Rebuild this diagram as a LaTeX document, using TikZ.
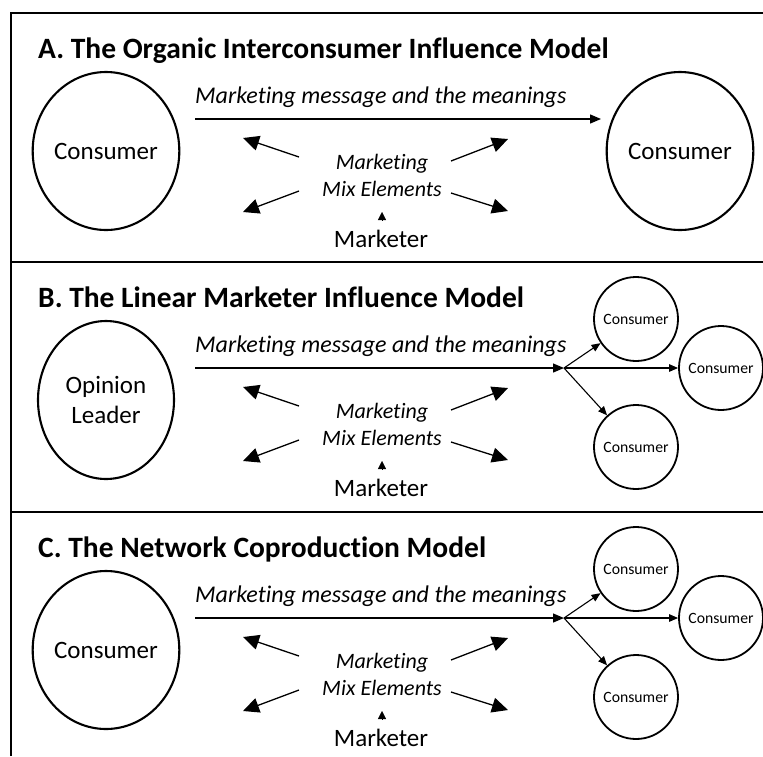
\documentclass[tikz,border=0pt]{standalone}
\usepackage{fontspec}
\setmainfont{Carlito}[Ligatures=NoCommon]
\usetikzlibrary{arrows.meta,shapes.geometric}
\tikzset{
  frame/.style={line width=2.8pt},
  bigc/.style={draw, ellipse, line width=2.1pt, minimum width=136pt, minimum height=158pt, inner sep=0pt, align=center, font=\fontsize{25}{30}\selectfont},
  smallc/.style={draw, circle, line width=1.8pt, minimum size=84pt, inner sep=0pt, font=\fontsize{15.7}{19}\selectfont},
  ttl/.style={anchor=base west, inner sep=0pt, font=\bfseries\fontsize{29.5}{34}\selectfont},
  msgtext/.style={anchor=base west, inner sep=0pt, font=\itshape\fontsize{24}{28}\selectfont},
  mixtext/.style={anchor=base, inner sep=0pt, font=\itshape\fontsize{22}{26}\selectfont},
  mkttext/.style={anchor=base, inner sep=0pt, font=\fontsize{25}{30}\selectfont},
  bigarrow/.style={line width=1.3pt, -{Triangle[length=16pt,width=15pt]}},
  msgarrow/.style={line width=1.3pt, -{Triangle[length=11pt,width=9pt]}},
  fanarrow/.style={line width=1.1pt, -{Triangle[length=9pt,width=7.5pt]}},
  uparrow/.style={-{Triangle[length=8pt,width=8pt]}},
}
\newcommand\mixblock[1]{%
  \node[msgtext] (#1msg) at (195,103) {Marketing message and the meanings};
  \node[mixtext] (#1mk) at (382,169) {Marketing};
  \node[mixtext] (#1mx) at (382,196) {Mix Elements};
  \node[mkttext] (#1mr) at (381,247) {Marketer};
  \coordinate (#1ula) at (299,157); \coordinate (#1ulb) at (243,138);
  \coordinate (#1ura) at (451,161); \coordinate (#1urb) at (508,139);
  \coordinate (#1lla) at (299,191); \coordinate (#1llb) at (243,212);
  \coordinate (#1lra) at (451,193); \coordinate (#1lrb) at (508,211);
  \draw[bigarrow] (#1ula) -- (#1ulb);
  \draw[bigarrow] (#1ura) -- (#1urb);
  \draw[bigarrow] (#1lla) -- (#1llb);
  \draw[bigarrow] (#1lra) -- (#1lrb);
  \coordinate (#1ms) at (195,119);
  \coordinate (#1ua) at (382,220); \coordinate (#1ub) at (382,212);
  \draw[uparrow] (#1ua) -- (#1ub);
}
\newcommand\fanblock[1]{%
  \coordinate (#1j) at (564,119);
  \draw[msgarrow] (#1ms) -- (#1j);
  \node[smallc] (#1c1) at (636,70) {Consumer};
  \node[smallc] (#1c2) at (721,119) {Consumer};
  \node[smallc] (#1c3) at (636,198) {Consumer};
  \draw[fanarrow] (#1j) -- (#1c1);
  \draw[fanarrow] (#1j) -- (#1c2);
  \draw[fanarrow] (#1j) -- (#1c3);
}
\begin{document}
\begin{tikzpicture}[x=1pt,y=-1pt]
\useasboundingbox (0,0) rectangle (763,756);
\draw[frame] (11,756) -- (11,13) -- (763,13);
\draw[frame] (11,262) -- (763,262);
\draw[frame] (11,512) -- (763,512);
% Panel A
\begin{scope}
  \node[ttl] (at) at (38,58) {A. The Organic Interconsumer Influence Model};
  \node[bigc] (ac1) at (106,151) {Consumer};
  \node[bigc] (ac2) at (680,151) {Consumer};
  \mixblock{a}
  \coordinate (ae) at (601,119);
  \draw[msgarrow] (ams) -- (ae);
\end{scope}
% Panel B
\begin{scope}[yshift=-249pt]
  \node[ttl] (bt) at (38,58) {B. The Linear Marketer Influence Model};
  \node[bigc] (bc1) at (106,151) {Opinion\\Leader};
  \mixblock{b}
  \fanblock{b}
\end{scope}
% Panel C
\begin{scope}[yshift=-499pt]
  \node[ttl] (ct) at (38,58) {C. The Network Coproduction Model};
  \node[bigc] (cc1) at (106,151) {Consumer};
  \mixblock{c}
  \fanblock{c}
\end{scope}
\end{tikzpicture}
\end{document}
